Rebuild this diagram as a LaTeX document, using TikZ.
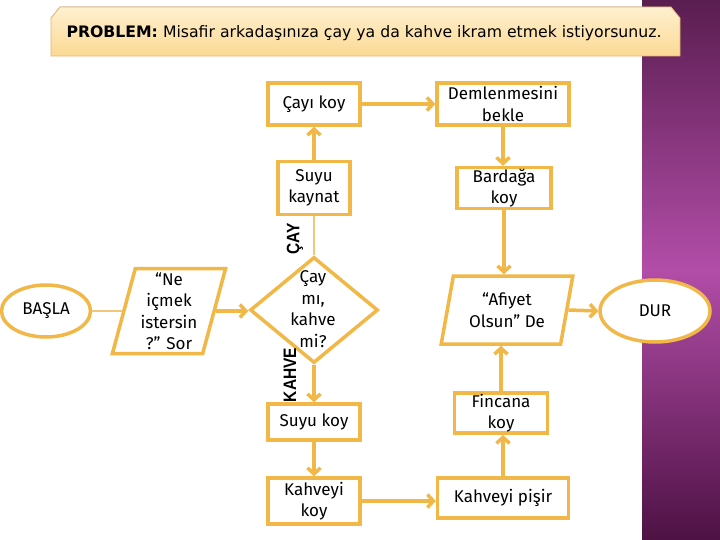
\documentclass[tikz,border=0pt]{standalone}
\usepackage{fontspec}
\setmainfont{Fira Sans}
\newfontfamily\titlefont{DejaVu Sans}
\newfontfamily\lblfont{Liberation Sans}
\usetikzlibrary{shapes.geometric,arrows.meta}
\definecolor{orn}{HTML}{F2B847}
\definecolor{ornthin}{HTML}{F2C779}
\definecolor{ttlfilltop}{HTML}{FEF0CF}
\definecolor{ttlfillbot}{HTML}{FCD994}
\definecolor{ttlborder}{HTML}{E3B56E}
\definecolor{purtop}{HTML}{5A1E50}
\definecolor{purmid}{HTML}{B24DA8}
\definecolor{purbot}{HTML}{4E1244}
\tikzset{
  txt/.style={font=\fontsize{17}{21.5}\selectfont, align=center, text=black},
  box/.style={txt, rectangle, draw=orn, line width=3.5pt, fill=white, inner sep=1pt},
  para/.style={txt, trapezium, trapezium left angle=76, trapezium right angle=104,
     trapezium stretches=true, draw=orn, line width=3.5pt, fill=white, inner sep=0pt},
  term/.style={txt, ellipse, draw=orn, line width=3.5pt, fill=white, inner sep=0pt},
  arr/.style={draw=orn, line width=3.5pt, -{Straight Barb[length=6pt,width=13pt]}},
  thin/.style={draw=ornthin, line width=2pt},
  lbl/.style={font=\lblfont\fontsize{18}{20}\selectfont\bfseries, rotate=90, inner sep=0pt}
}
\begin{document}
\begin{tikzpicture}[x=1pt,y=-1pt]
\useasboundingbox (0,0) rectangle (720,540);
\fill[white] (0,0) rectangle (720,540);
\shade[top color=purtop, bottom color=purbot, middle color=purmid] (642,0) rectangle (720,540);
% title
\filldraw[draw=ttlborder, line width=0.8pt, top color=ttlfilltop, bottom color=ttlfillbot]
  (51,56) -- (51,18) -- (60,7) -- (671,7) -- (680,18) -- (680,56) -- cycle;
\node[inner sep=0pt] (title) at (364,33)
  {\resizebox{595pt}{12pt}{\titlefont\fontsize{14}{16}\selectfont\textbf{PROBLEM:} Misafir arkadaşınıza çay ya da kahve ikram etmek istiyorsunuz.}};

% nodes
\node[term, minimum width=89pt, minimum height=52pt] (basla) at (46,311) {BAŞLA};
\node[para, minimum width=114pt, minimum height=85pt] (ask) at (169,311) {“Ne\\içmek\\istersin\\?” Sor};
\node[diamond, draw=orn, line width=3.5pt, fill=white, minimum width=128pt, minimum height=106pt, inner sep=0pt] (dec) at (314,310) {};
\node[txt] (dectext) at (313,309) {Çay\\mı,\\kahve\\mi?};
\node[box, minimum width=72pt, minimum height=53pt] (kaynat) at (314,188) {Suyu\\kaynat};
\node[box, minimum width=92pt, minimum height=42pt] (cayi) at (314,104) {Çayı koy};
\node[box, minimum width=132pt, minimum height=42pt] (dem) at (503,104) {Demlenmesini\\bekle};
\node[box, minimum width=94pt, minimum height=41pt] (bar) at (504,188) {Bardağa\\koy};
\node[para, minimum width=132pt, minimum height=68pt] (afi) at (507,310) {“Afiyet\\Olsun” De};
\node[term, minimum width=110pt, minimum height=62pt] (dur) at (655,311) {DUR};
\node[box, minimum width=92pt, minimum height=36pt] (suykoy) at (314,422) {Suyu koy};
\node[box, minimum width=92pt, minimum height=46pt] (kkoy) at (314,501) {Kahveyi\\koy};
\node[box, minimum width=131pt, minimum height=40pt] (pisir) at (503,498) {Kahveyi pişir};
\node[box, minimum width=93pt, minimum height=40pt] (fin) at (501,413) {Fincana\\koy};

% labels
\node[lbl] (cay) at (295,239) {\scalebox{0.86}[1]{ÇAY}};
\node[lbl] (kahve) at (290,375) {\scalebox{0.86}[1]{KAHVE}};

% connectors
\draw[thin] (basla.east) -- (basla.east -| ask.west);
\draw[arr] (ask.east) -- (ask.east -| dec.west);
\draw[thin] (dec.north) -- (dec.north |- kaynat.south);
\draw[arr] (kaynat.north) -- (cayi.south);
\draw[arr] (cayi.east) -- (dem.west);
\draw[arr] (dem.south) -- (dem.south |- bar.north);
\draw[arr] (bar.south) -- (bar.south |- afi.north);
\draw[arr] (afi.east) -- (dur.west);
\draw[arr] (dec.south) -- (dec.south |- suykoy.north);
\draw[arr] (suykoy.south) -- (suykoy.south |- kkoy.north);
\draw[arr] (kkoy.east) -- (kkoy.east -| pisir.west);
\draw[arr] (pisir.north) -- (pisir.north |- fin.south);
\draw[arr] (fin.north) -- (fin.north |- afi.south);
\end{tikzpicture}
\end{document}
